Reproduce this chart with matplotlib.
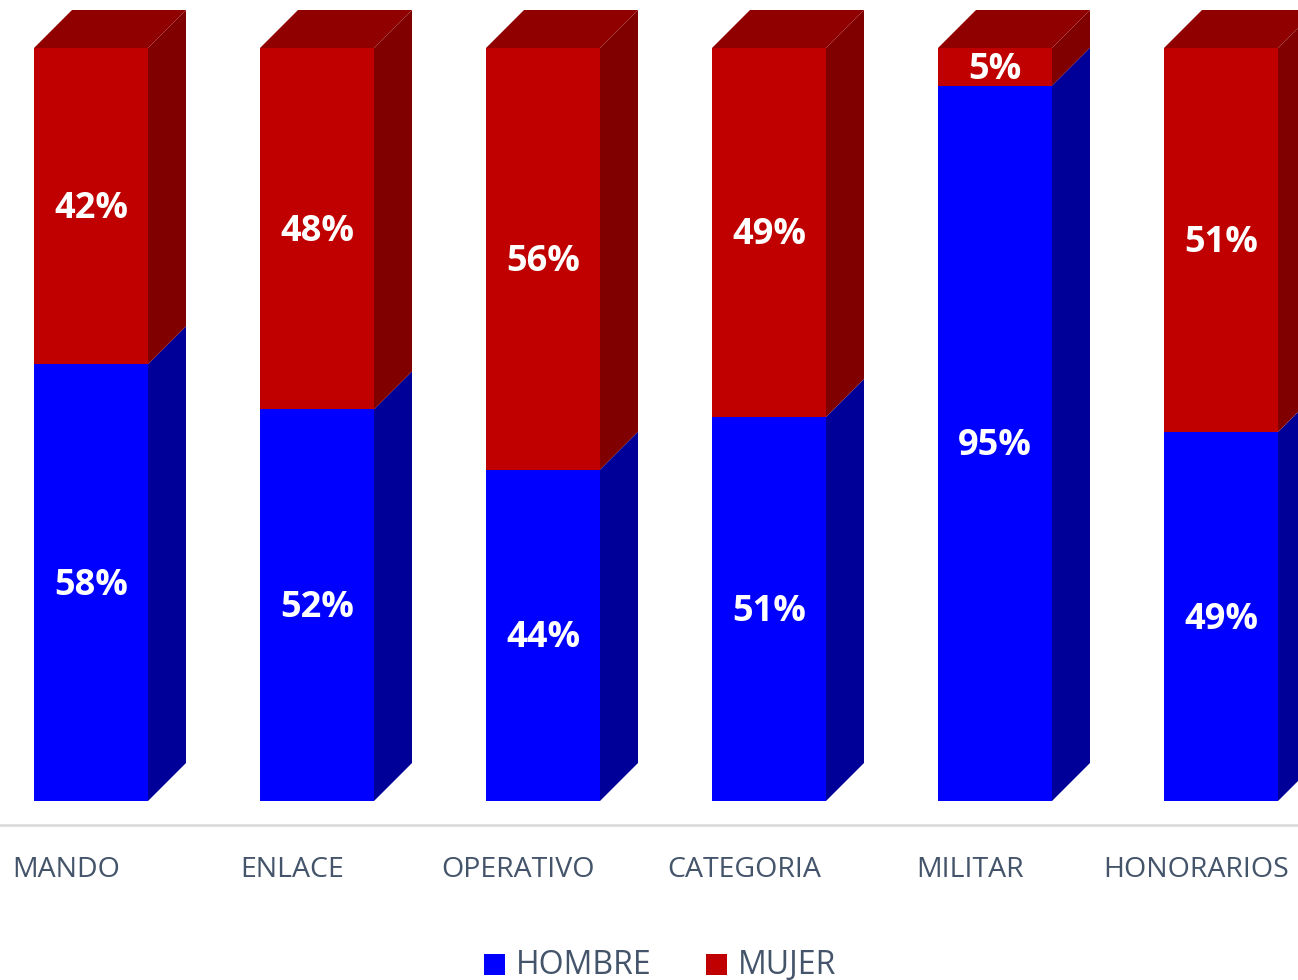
import matplotlib
matplotlib.use("Agg")
import matplotlib.pyplot as plt
from matplotlib.patches import Polygon, Rectangle

categorias = ["MANDO", "ENLACE", "OPERATIVO", "CATEGORIA", "MILITAR", "HONORARIOS"]
hombre = [58, 52, 44, 51, 95, 49]
mujer = [42, 48, 56, 49, 5, 51]
series = ["HOMBRE", "MUJER"]

# colores: frente, lado, tapa
azul = ("#0000FF", "#000099", "#00008A")
rojo = ("#C00000", "#800000", "#900000")
gris_texto = "#44546A"

plt.rcParams["font.family"] = ["Open Sans", "DejaVu Sans"]

# escala: 226 px por categoria, 7.53 px por punto porcentual
px_x = 226.0
px_y = 7.53
ancho = 114 / px_x
dx = 38 / px_x
dy = 38 / px_y


def px2x(p):
    return (p - 91) / px_x


def px2y(p):
    return (801 - p) / px_y


def cara(ax, x0, y0, y1, colores, tapa=False):
    x1 = x0 + ancho
    ax.add_patch(Rectangle((x0, y0), ancho, y1 - y0, facecolor=colores[0], edgecolor="none"))
    ax.add_patch(Polygon([(x1, y0), (x1 + dx, y0 + dy), (x1 + dx, y1 + dy), (x1, y1)],
                         closed=True, facecolor=colores[1], edgecolor="none"))
    if tapa:
        ax.add_patch(Polygon([(x0, y1), (x0 + dx, y1 + dy), (x1 + dx, y1 + dy), (x1, y1)],
                             closed=True, facecolor=colores[2], edgecolor="none"))


fig = plt.figure(figsize=(12.98, 9.8), dpi=100)
ax = fig.add_axes([0, 0, 1, 1])
ax.set_xlim(px2x(0), px2x(1298))
ax.set_ylim(px2y(980), px2y(0))
ax.axis("off")

# linea del eje
ax.plot([px2x(0), px2x(1298)], [px2y(825), px2y(825)], color="#D9D9D9", lw=1.8)

baja = 3 / px_y  # pequeño ajuste vertical de las etiquetas
for i, cat in enumerate(categorias):
    x0 = i - ancho / 2
    h = hombre[i]
    m = mujer[i]
    cara(ax, x0, 0, h, azul)
    cara(ax, x0, h, h + m, rojo, tapa=True)
    ax.text(i, h / 2 - baja, f"{h}%", color="white", fontsize=26, fontweight="bold",
            ha="center", va="center")
    ax.text(i, h + m / 2 - baja, f"{m}%", color="white", fontsize=26, fontweight="bold",
            ha="center", va="center")
    ax.text(i - 25 / px_x, px2y(877), cat, color=gris_texto, fontsize=20.5,
            ha="center", va="baseline")

# leyenda
for pos_cuadro, pos_texto, nombre, color in [(484, 516, series[0], azul[0]),
                                             (706, 738, series[1], rojo[0])]:
    ax.add_patch(Rectangle((px2x(pos_cuadro), px2y(975)), 21 / px_x, 21 / px_y,
                           facecolor=color, edgecolor="none"))
    ax.text(px2x(pos_texto), px2y(974), nombre, color=gris_texto, fontsize=23,
            ha="left", va="baseline")

fig.savefig("out.png", dpi=100)
